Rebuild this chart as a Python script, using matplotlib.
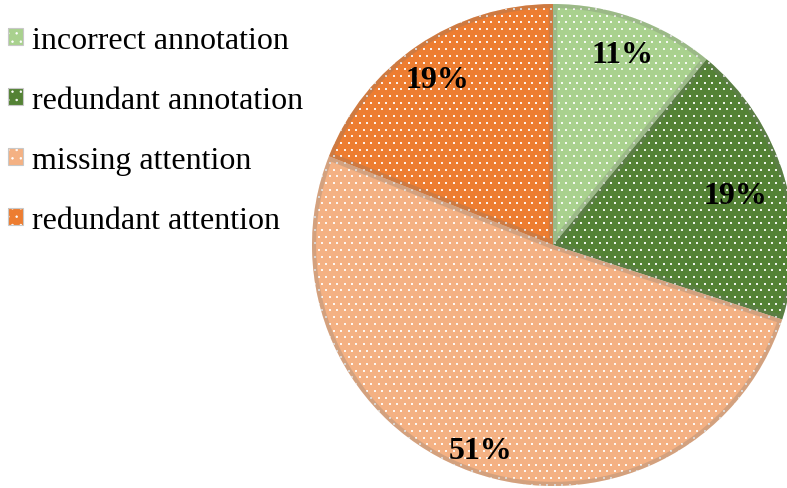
import numpy as np
import matplotlib
matplotlib.use("Agg")
import matplotlib.pyplot as plt
from matplotlib.patches import Patch, Wedge, Rectangle
from matplotlib.legend_handler import HandlerPatch

# Error categories and their share of cases (%)
categories = ["incorrect annotation", "redundant annotation",
              "missing attention", "redundant attention"]
shares = [11, 19, 51, 19]
colors = ["#A9D18E", "#548235", "#F4B183", "#ED7D31"]

# radial placement of the percentage labels (fraction of radius)
label_radius = [0.857, 0.79, 0.89, 0.85]

plt.rcParams["hatch.linewidth"] = 0.5
SERIF = "Liberation Serif"

W, H, DPI = 787, 489, 100
fig = plt.figure(figsize=(W / DPI, H / DPI), dpi=DPI)

# pie centre and radius in pixels
cx, cy, R = 553, 246, 241
ax = fig.add_axes([(cx - R) / W, (H - cy - R) / H, 2 * R / W, 2 * R / H])

wedges, _ = ax.pie(shares, colors=colors, startangle=90, counterclock=False,
                   radius=1, wedgeprops=dict(linewidth=0))
ax.set_xlim(-1, 1)
ax.set_ylim(-1, 1)
ax.set_aspect("equal")
ax.axis("off")

# dotted fill texture: staggered lattice of small white squares
px = 1.0 / R
step_x, step_y = 7.5 * px, 6.7 * px
pts = []
for i, y in enumerate(np.arange(-1.05, 1.05, step_y)):
    xs = np.arange(-1.05, 1.05, step_x) + (step_x / 2 if i % 2 else 0)
    pts.append(np.column_stack([xs, np.full_like(xs, y)]))
pts = np.vstack(pts)

for w in wedges:
    sc = ax.scatter(pts[:, 0], pts[:, 1], s=2.2, marker="s", c="white",
                    linewidths=0, alpha=0.9, zorder=3)
    sc.set_clip_path(w)
    # soft translucent band along the inside of each slice outline
    band = Wedge(w.center, w.r, w.theta1, w.theta2, fill=False,
                 edgecolor=(0.45, 0.45, 0.45, 0.25), linewidth=6, zorder=4)
    ax.add_patch(band)
    band.set_clip_path(w)

for w, v, rr in zip(wedges, shares, label_radius):
    ang = np.deg2rad((w.theta1 + w.theta2) / 2)
    ax.text(rr * np.cos(ang), rr * np.sin(ang), f"{v}%", ha="center",
            va="center_baseline", fontsize=23, fontweight="bold",
            family=SERIF, zorder=5)


class DottedSquare(HandlerPatch):
    def create_artists(self, legend, orig_handle, xdescent, ydescent,
                       width, height, fontsize, trans):
        fill = Rectangle((-xdescent, -ydescent), width, height,
                         facecolor=orig_handle.get_facecolor(),
                         edgecolor="white", linewidth=0, hatch="..",
                         transform=trans)
        frame = Rectangle((-xdescent, -ydescent), width, height, fill=False,
                          edgecolor="#c8c8c8", linewidth=0.8, transform=trans)
        return [fill, frame]


handles = [Patch(facecolor=c) for c in colors]
fig.legend(handles, categories, loc="upper left",
           bbox_to_anchor=(8 / W, 1 - 27 / H), bbox_transform=fig.transFigure,
           frameon=False, prop=dict(family=SERIF, size=23),
           handlelength=0.47, handleheight=0.47, handletextpad=0.28,
           labelspacing=0.97, borderpad=0, borderaxespad=0,
           handler_map={Patch: DottedSquare()})

fig.savefig("out.png", dpi=DPI)
